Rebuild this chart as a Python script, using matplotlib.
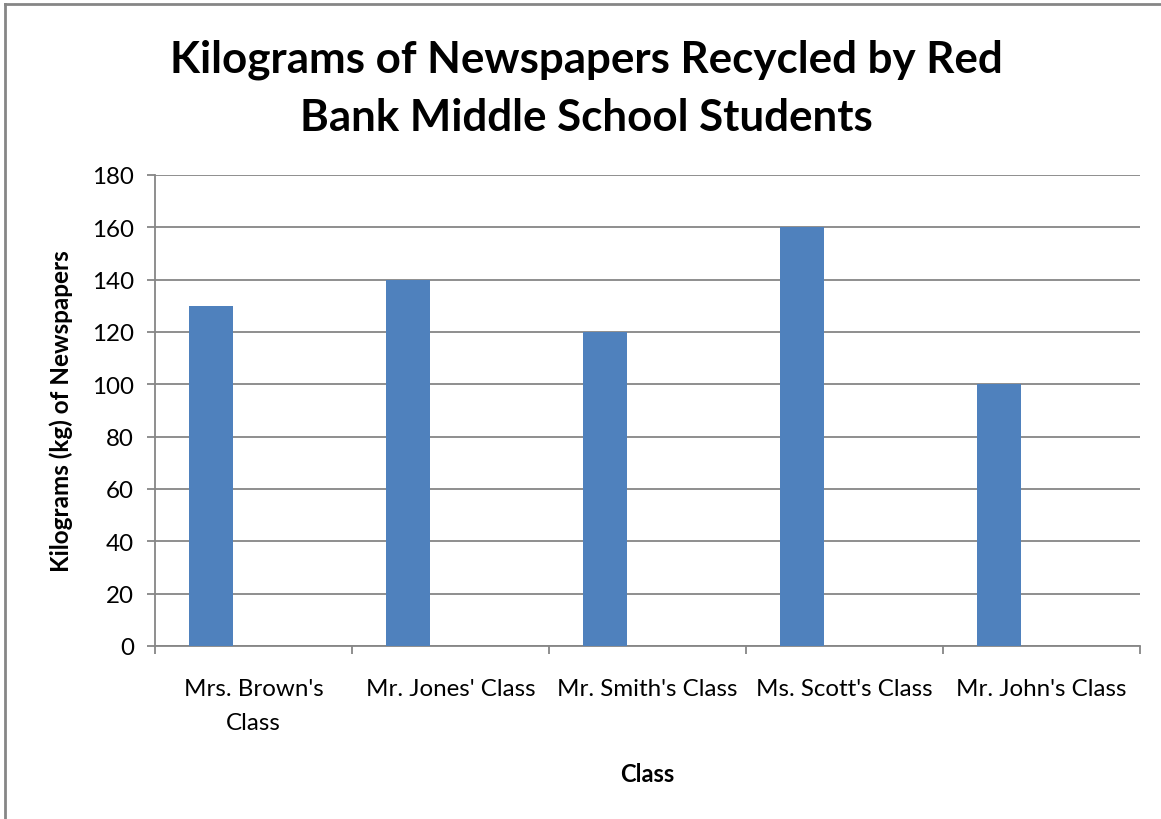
import matplotlib.pyplot as plt
from matplotlib.lines import Line2D
from matplotlib.ticker import FixedLocator

# kilograms of newspapers collected per class
classes = ["Mrs. Brown's\nClass", "Mr. Jones' Class", "Mr. Smith's Class",
           "Ms. Scott's Class", "Mr. John's Class"]
kilograms = [130, 140, 120, 160, 100]
y_ticks = [0, 20, 40, 60, 80, 100, 120, 140, 160, 180]

plt.rcParams['font.family'] = ['Lato', 'DejaVu Sans']
grey = '#868686'

fig = plt.figure(figsize=(11.61, 8.2), dpi=100)
ax = fig.add_axes([0.1335, 0.2110, 0.8485, 0.5744])

# bars sit in the left part of each category slot
pos = [i - 0.216 for i in range(len(kilograms))]
ax.bar(pos, kilograms, width=0.223, color='#4F81BD', zorder=3)

ax.set_xlim(-0.5, len(classes) - 0.5)
ax.set_ylim(0, 180)
ax.set_yticks(y_ticks)
ax.yaxis.grid(True, color=grey, linewidth=1.3, zorder=0)

# tick marks on the slot boundaries, labels in the middle of each slot
ax.xaxis.set_major_locator(FixedLocator([i - 0.5 for i in range(len(classes) + 1)]))
ax.xaxis.set_minor_locator(FixedLocator(list(range(len(classes)))))
ax.set_xticklabels([''] * (len(classes) + 1))
ax.set_xticklabels(classes, minor=True, fontsize=17.4, linespacing=1.75)
ax.tick_params(axis='x', which='major', length=6, width=1.3, color=grey, direction='out')
ax.tick_params(axis='x', which='minor', length=0, pad=23)
ax.tick_params(axis='y', length=6, width=1.3, color=grey, direction='out',
               labelsize=17.4, pad=9)

for side in ['top', 'right']:
    ax.spines[side].set_visible(False)
for side in ['left', 'bottom']:
    ax.spines[side].set_color(grey)
    ax.spines[side].set_linewidth(1.3)

ax.set_xlabel('Class', fontsize=17, fontweight='bold', labelpad=21)
ax.set_ylabel('Kilograms (kg) of Newspapers', fontsize=17.5, fontweight='bold', labelpad=14)

fig.text(0.505, 0.892, 'Kilograms of Newspapers Recycled by Red\nBank Middle School Students',
         ha='center', va='center', fontsize=31.6, fontweight='bold', linespacing=1.55)

# outer frame, only the top and left edges show
fig.add_artist(Line2D([0.0043, 0.0043], [0, 0.9945], transform=fig.transFigure,
                      color=grey, linewidth=2))
fig.add_artist(Line2D([0.0043, 1], [0.9945, 0.9945], transform=fig.transFigure,
                      color=grey, linewidth=2))

plt.savefig('out.png')
